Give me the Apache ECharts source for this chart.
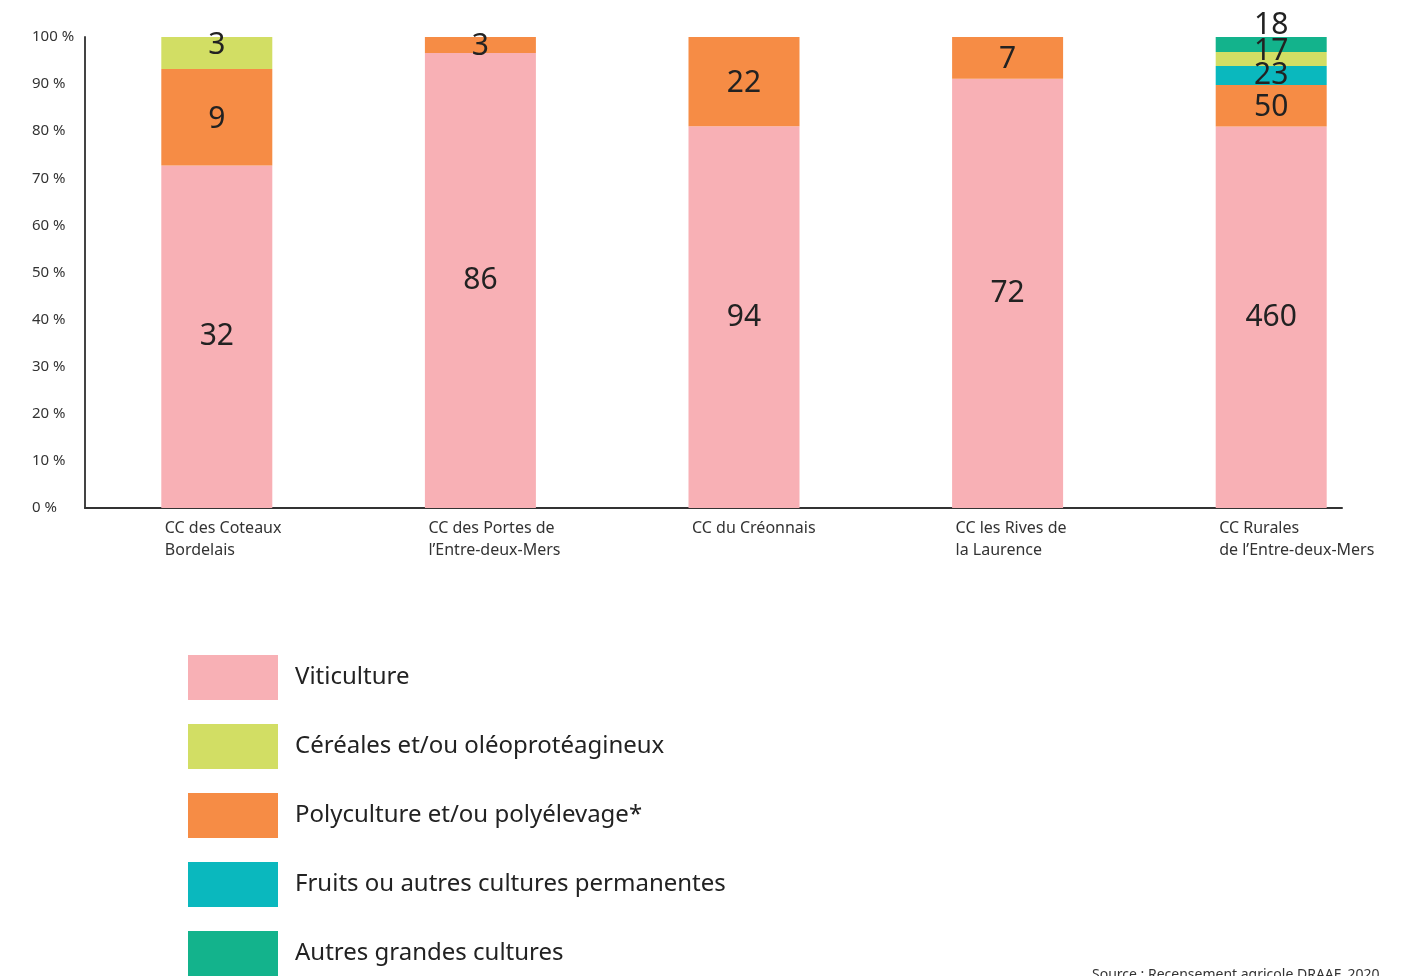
<!DOCTYPE html>
<html>
<head>
<meta charset="utf-8">
<script src="https://cdn.jsdelivr.net/npm/echarts@6/dist/echarts.min.js"></script>
<style>
	html, body { margin: 0; padding: 0; background: #fff; }
	#barEchart { width: 1403px; height: 976px; }
</style>
</head>
<body>
<div id="barEchart"></div>
<script>
// communes (axe X)
var categories = [ 'CC des Coteaux\nBordelais', 'CC des Portes de\nl\u2019Entre-deux-Mers', 'CC du Créonnais', 'CC les Rives de\nla Laurence', 'CC Rurales\nde l\u2019Entre-deux-Mers' ];

// nombre d'exploitations par orientation (empilées du bas vers le haut)
var viticulture = [ 32, 86, 94, 72, 460 ];
var polyculture = [ 9, 3, 22, 7, 50 ];
var fruits = [ 0, 0, 0, 0, 23 ];
var cereales = [ 3, 0, 0, 0, 17 ];
var autres = [ 0, 0, 0, 0, 18 ];

var yTicks = [ 0, 10, 20, 30, 40, 50, 60, 70, 80, 90, 100 ];

var names = [ 'Viticulture', 'Céréales et/ou oléoprotéagineux', 'Polyculture et/ou polyélevage*', 'Fruits ou autres cultures permanentes', 'Autres grandes cultures' ];
var colors = [ '#f8b0b5', '#d2de64', '#f68c45', '#0ab8be', '#13b38c' ];

var myChart = echarts.init(document.getElementById('barEchart'));

// total par commune pour passer en %
var totals = [];
for (var i = 0; i < categories.length; i++) {
	totals[i] = viticulture[i] + polyculture[i] + fruits[i] + cereales[i] + autres[i];
}

function toPct(arr) {
	var out = [];
	for (var i = 0; i < arr.length; i++) {
		out[i] = { value: arr[i] / totals[i] * 100, count: arr[i] };
	}
	return out;
}

var font = 'Noto Sans';

function makeSeries(name, arr, color, label) {
	var lbl = {
		show: true,
		position: 'inside',
		fontFamily: font,
		fontSize: 30,
		color: '#222',
		formatter: function (p) { return p.data.count ? p.data.count : ''; }
	};
	for (var k in label) { lbl[k] = label[k]; }
	return {
		name: name,
		type: 'bar',
		stack: 'total',
		barWidth: 111,
		itemStyle: { color: color },
		label: lbl,
		data: toPct(arr)
	};
}

var option = {
	animation: false,
	textStyle: { fontFamily: font },
	title: {
		text: 'Source : Recensement agricole DRAAF, 2020',
		left: 1087,
		top: 963,
		textStyle: { fontFamily: font, fontSize: 14, fontWeight: 'normal', color: '#333' }
	},
	legend: {
		orient: 'vertical',
		left: 183,
		top: 650,
		height: 400,
		icon: 'rect',
		itemWidth: 90,
		itemHeight: 45,
		itemGap: 24,
		data: names,
		textStyle: { fontFamily: font, fontSize: 24, color: '#222', padding: [0, 0, 0, 12] }
	},
	grid: [
		{ left: 85, right: 0, top: 37, bottom: 468 },
		{ left: 85, right: 61, top: 37, bottom: 468 }
	],
	xAxis: [ {
		type: 'category',
		data: categories,
		axisLine: { show: false },
		axisTick: { show: false },
		axisLabel: {
			align: 'left',
			padding: [0, 0, 0, -52],
			margin: 9,
			lineHeight: 22,
			fontFamily: font,
			fontSize: 16,
			color: '#333'
		}
	}, {
		gridIndex: 1,
		type: 'value',
		axisLine: { show: true, onZero: false, lineStyle: { color: '#333', width: 2 } },
		axisTick: { show: false },
		axisLabel: { show: false },
		splitLine: { show: false }
	} ],
	yAxis: [ {
		type: 'value',
		min: yTicks[0],
		max: yTicks[yTicks.length - 1],
		interval: 10,
		axisLine: { show: true, lineStyle: { color: '#444', width: 2 } },
		axisTick: { show: false },
		splitLine: { show: false },
		axisLabel: {
			align: 'left',
			margin: 53,
			fontFamily: font,
			fontSize: 15,
			color: '#333',
			formatter: '{value} %'
		}
	}, {
		gridIndex: 1,
		type: 'value',
		show: false
	} ],
	series: [
		makeSeries(names[0], viticulture, colors[0], {}),
		makeSeries(names[2], polyculture, colors[2], { offset: [0, 2] }),
		makeSeries(names[3], fruits, colors[3], {}),
		makeSeries(names[1], cereales, colors[1], { offset: [0, -8] }),
		makeSeries(names[4], autres, colors[4], { position: 'top', distance: -3 })
	]
};

myChart.setOption(option);
</script>
</body>
</html>
